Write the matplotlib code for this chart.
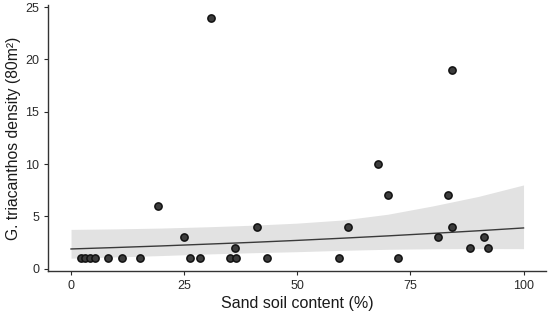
import numpy as np
import matplotlib
matplotlib.use("Agg")
import matplotlib.pyplot as plt

plt.rcParams['font.family'] = ['Liberation Sans', 'DejaVu Sans']

# observed points
sand = [2.1, 3.1, 4.1, 5.2, 8.1, 11.2, 15.2, 19.2, 25.0, 26.2, 28.4, 31.0,
        35.1, 36.4, 36.2, 41.1, 43.2, 59.2, 61.3, 67.9, 70.1, 72.2, 81.2,
        83.3, 84.2, 84.2, 88.2, 91.2, 92.2]
density = [1, 1, 1, 1, 1, 1, 1, 6, 3, 1, 1, 24,
           1, 1, 2, 4, 1, 1, 4, 10, 7, 1, 3,
           7, 4, 19, 2, 3, 2]

# fitted curve and confidence band
fit_x = [0, 10, 20, 30, 40, 50, 60, 70, 80, 90, 100]
fit_y = [1.88, 2.02, 2.17, 2.34, 2.51, 2.70, 2.91, 3.13, 3.37, 3.62, 3.89]
band_lo = [1.00, 1.12, 1.25, 1.40, 1.52, 1.62, 1.75, 1.85, 1.90, 1.92, 1.91]
band_hi = [3.75, 3.80, 3.88, 4.00, 4.15, 4.35, 4.65, 5.20, 6.00, 6.90, 8.00]

xticks = [0, 25, 50, 75, 100]
yticks = [0, 5, 10, 15, 20, 25]

fig = plt.figure(figsize=(5.5, 3.17), dpi=100)
ax = fig.add_axes([0.088, 0.146, 0.905, 0.838])

ax.fill_between(fit_x, band_lo, band_hi, color='#e2e2e2', lw=0, zorder=1)
ax.plot(fit_x, fit_y, color='#3a3a3a', lw=1.0, zorder=2)
ax.plot(sand, density, 'o', ms=5.2, mfc='#3c3c3c', mec='#111111', mew=1.1,
        zorder=3)

ax.set_xlim(-5, 105)
ax.set_ylim(-0.2, 25.2)
ax.set_xticks(xticks)
ax.set_yticks(yticks)
ax.tick_params(colors='#2a2a2a', labelsize=9, length=3, width=0.8)

for s in ['top', 'right']:
    ax.spines[s].set_visible(False)
for s in ['left', 'bottom']:
    ax.spines[s].set_color('#333333')
    ax.spines[s].set_linewidth(1.0)

ax.set_xlabel('Sand soil content (%)', fontsize=11.5, color='#1a1a1a', labelpad=3)
ax.set_ylabel('G. triacanthos density (80m²)', fontsize=11.3, color='#1a1a1a',
              labelpad=3)

fig.savefig('out.png', dpi=100)
